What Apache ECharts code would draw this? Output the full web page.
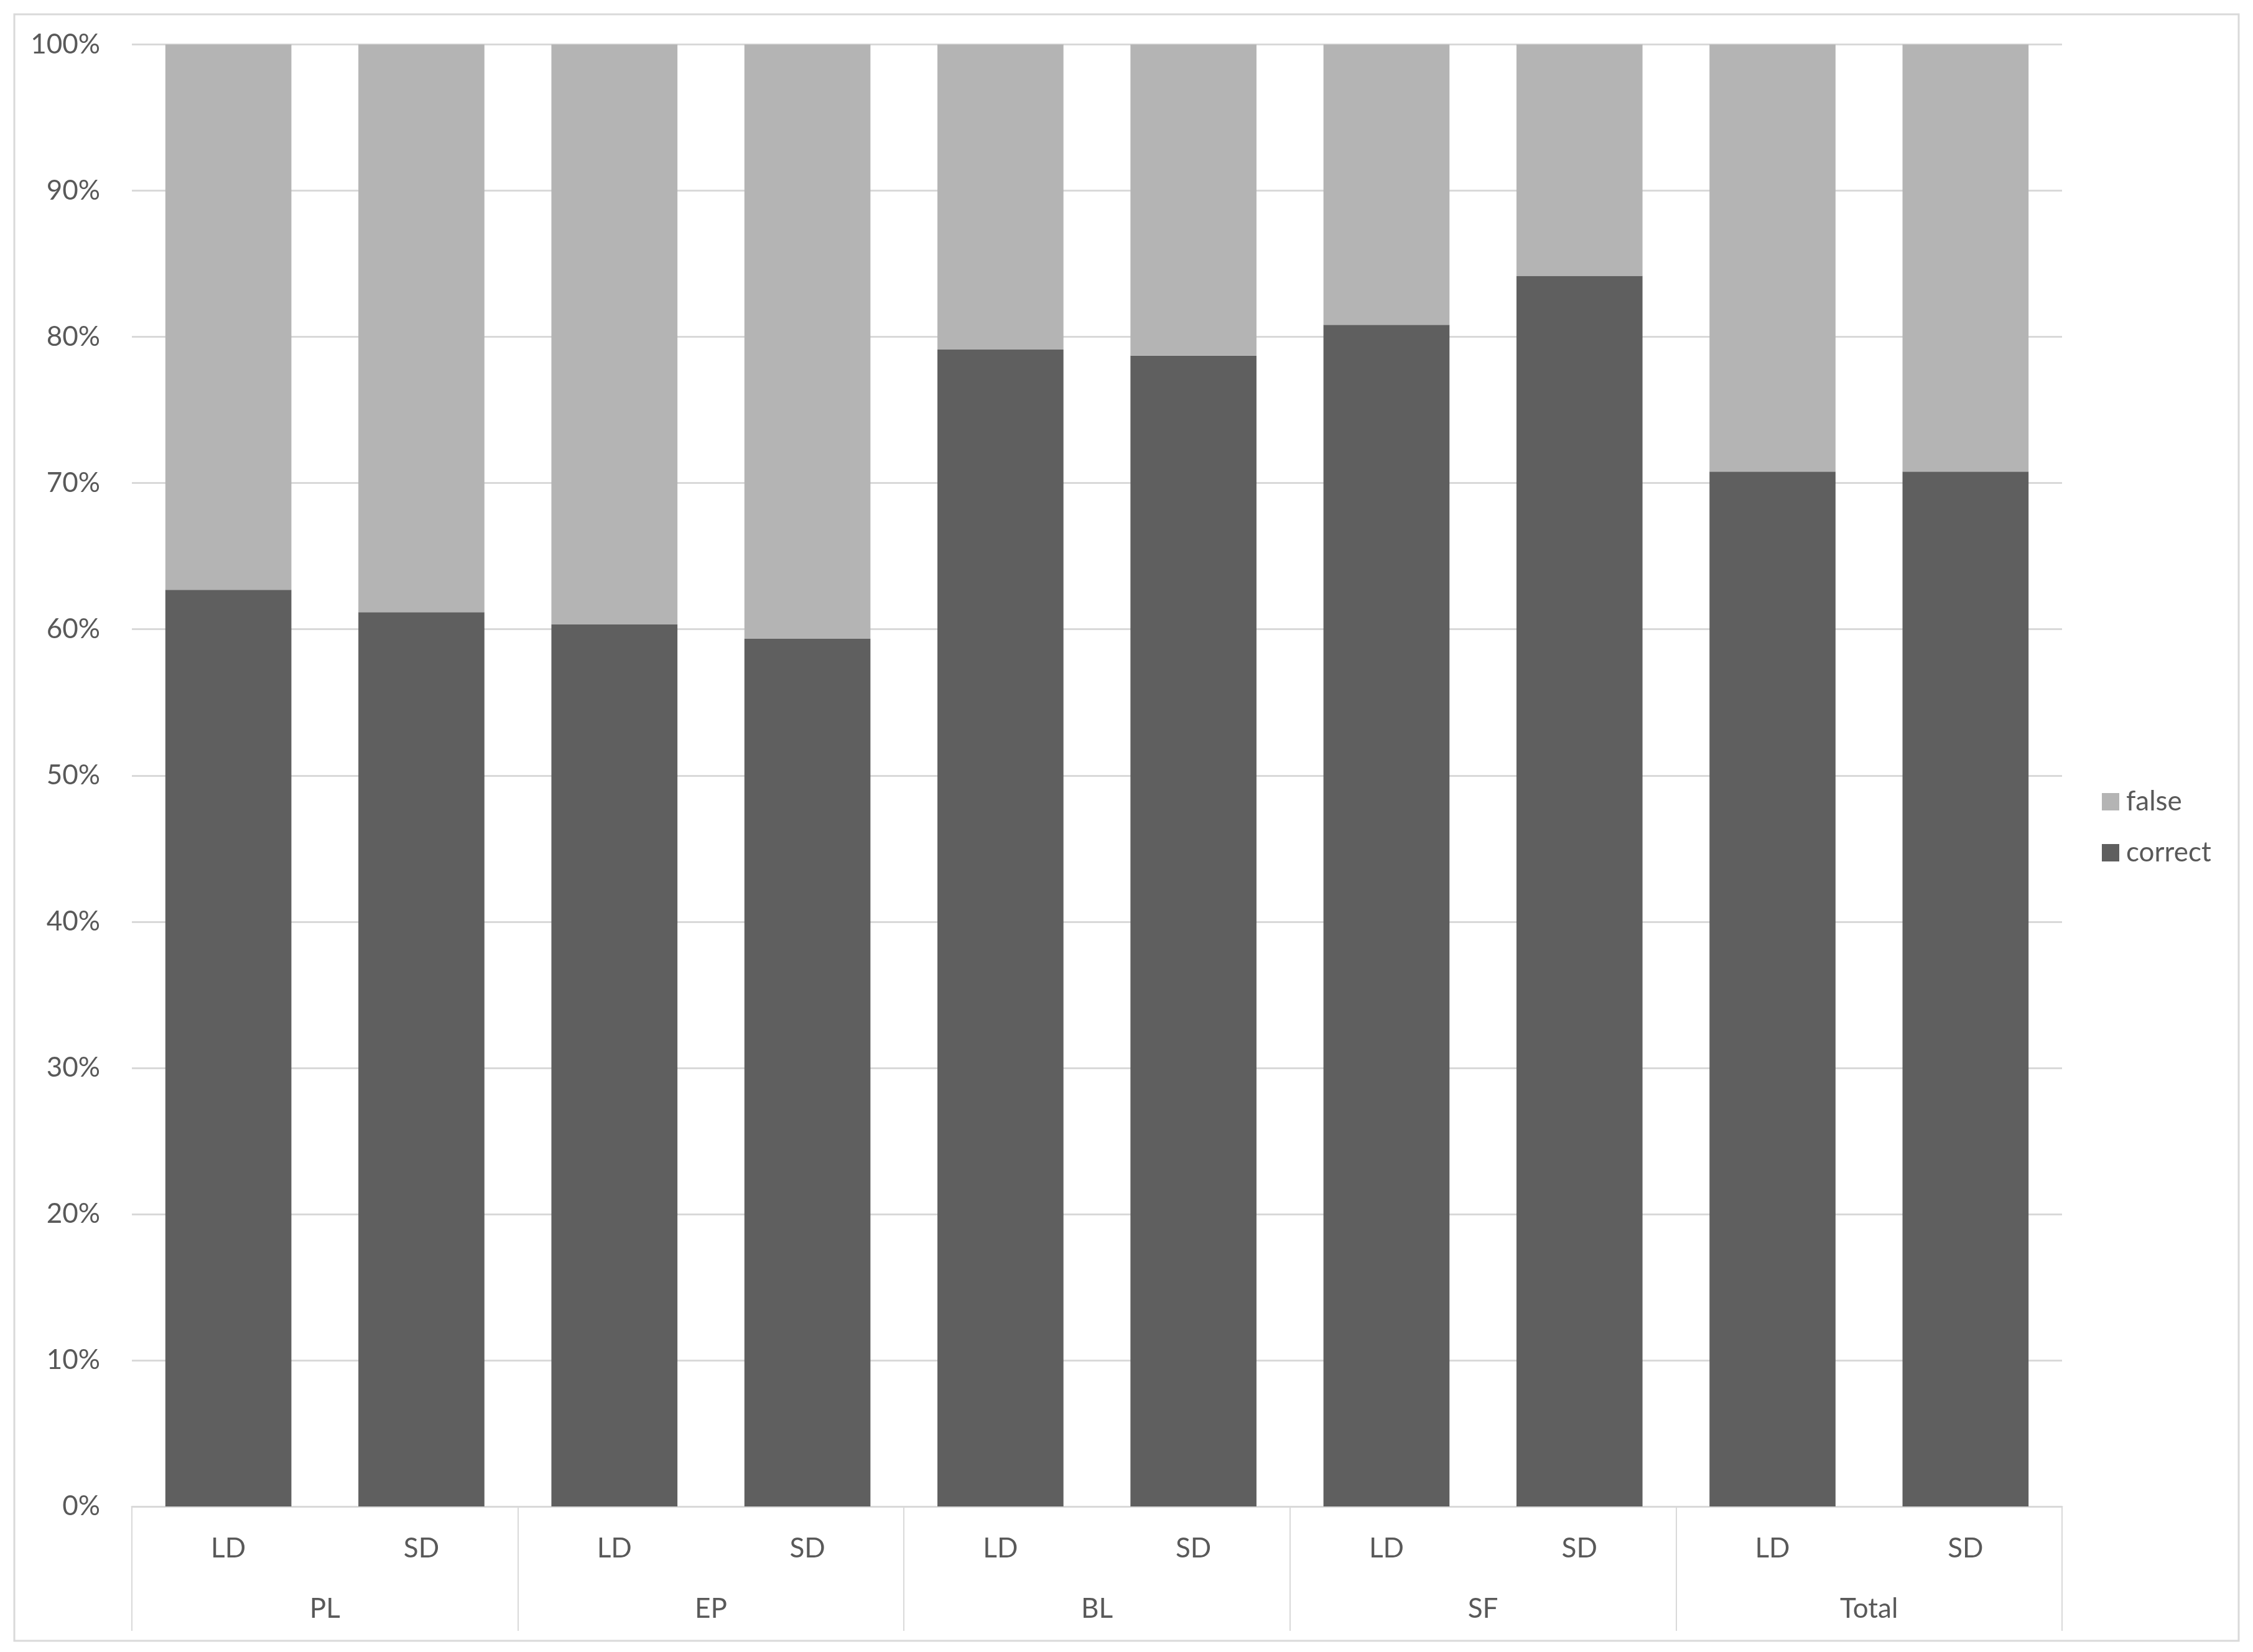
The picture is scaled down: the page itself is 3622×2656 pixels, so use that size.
<!DOCTYPE html>
<html>
<head>
<meta charset="utf-8">
<script src="https://cdn.jsdelivr.net/npm/echarts@6/dist/echarts.min.js"></script>
<style>
html,body{margin:0;padding:0;background:#fff;}
#chart{width:3622px;height:2656px;}
</style>
</head>
<body>
<div id="chart"></div>
<script>
const subCategories = ['LD','SD','LD','SD','LD','SD','LD','SD','LD','SD'];
const groups = ['PL','EP','BL','SF','Total'];
const correctValues = [62.7, 61.17, 60.33, 59.35, 79.13, 78.72, 80.82, 84.17, 70.78, 70.78];
const falseValues = [37.3, 38.83, 39.67, 40.65, 20.87, 21.28, 19.18, 15.83, 29.22, 29.22];
const yTicks = {min: 0, max: 100, interval: 10};

const FONT = 'Lato, "Open Sans", sans-serif';
const TXT = '#595959';
const GRID = '#d9d9d9';

const chart = echarts.init(document.getElementById('chart'), null, {renderer: 'canvas'});
chart.setOption({
  backgroundColor: '#ffffff',
  animation: false,
  textStyle: {fontFamily: FONT},
  graphic: [{
    type: 'rect',
    shape: {x: 23, y: 23, width: 3576, height: 2615},
    style: {fill: 'none', stroke: GRID, lineWidth: 3},
    silent: true
  }],
  grid: {left: 212, right: 307, top: 71.5, bottom: 234, containLabel: false},
  legend: {
    orient: 'vertical',
    left: 3374,
    top: 1261,
    itemWidth: 28,
    itemHeight: 28,
    itemGap: 36,
    icon: 'rect',
    data: ['false', 'correct'],
    textStyle: {fontFamily: FONT, fontSize: 44, color: TXT, lineHeight: 46, padding: [0, 0, 0, 6]}
  },
  xAxis: [{
    type: 'category',
    data: subCategories,
    position: 'bottom',
    axisLine: {show: true, lineStyle: {color: GRID, width: 3}},
    axisTick: {show: false},
    axisLabel: {fontFamily: FONT, fontSize: 44, color: TXT, margin: 46, interval: 0}
  }, {
    type: 'category',
    data: groups,
    position: 'bottom',
    axisLine: {show: false},
    axisTick: {show: true, length: 200, lineStyle: {color: GRID, width: 2}},
    axisLabel: {fontFamily: FONT, fontSize: 44, color: TXT, margin: 143, interval: 0},
    splitLine: {show: false}
  }],
  yAxis: {
    type: 'value',
    min: yTicks.min,
    max: yTicks.max,
    interval: yTicks.interval,
    axisLine: {show: false},
    axisTick: {show: false},
    axisLabel: {fontFamily: FONT, fontSize: 44, color: TXT, margin: 51, formatter: '{value}%'},
    splitLine: {show: true, lineStyle: {color: GRID, width: 3}}
  },
  series: [{
    name: 'correct',
    type: 'bar',
    stack: 'total',
    xAxisIndex: 0,
    data: correctValues,
    barCategoryGap: '34.7%',
    itemStyle: {color: '#5f5f5f'}
  }, {
    name: 'false',
    type: 'bar',
    stack: 'total',
    xAxisIndex: 0,
    data: falseValues,
    barCategoryGap: '34.7%',
    itemStyle: {color: '#b4b4b4'}
  }]
});
</script>
</body>
</html>
